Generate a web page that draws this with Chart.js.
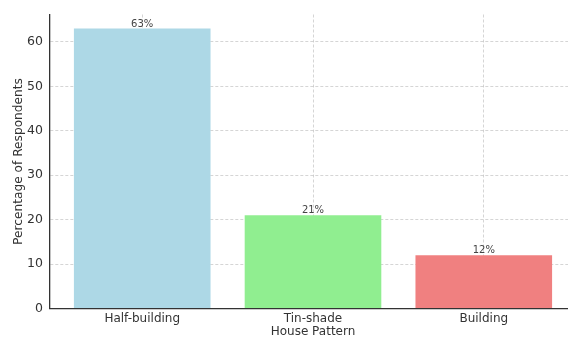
<!DOCTYPE html>
<html>
<head>
<meta charset="utf-8">
<script src="https://cdn.jsdelivr.net/npm/chart.js@4.4.1/dist/chart.umd.min.js"></script>
<style>
  html, body { margin: 0; padding: 0; background: #ffffff; }
  #wrap { width: 568px; height: 339px; overflow: hidden; position: relative; }
  #houseChart { display: block; }
</style>
</head>
<body>
<div id="wrap">
  <canvas id="houseChart" width="578" height="339"></canvas>
</div>
<script>
// 주택 형태별 응답자 비율

const categories = ["Half-building", "Tin-shade", "Building"];
const percentValues = [63, 21, 12];
const barColors = ["#ADD8E6", "#90EE90", "#F08080"];
const yTickValues = [0, 10, 20, 30, 40, 50, 60];

const FONT_FAMILY = "'DejaVu Sans', sans-serif";
const TEXT_COLOR = "#333333";
const GRID_COLOR = "rgba(150,150,150,0.5)";

// 막대 위에 % 라벨
const valueLabelPlugin = {
  id: "valueLabels",
  afterDatasetsDraw(chart) {
    const ctx = chart.ctx;
    const meta = chart.getDatasetMeta(0);
    ctx.save();
    ctx.font = "10px " + FONT_FAMILY;
    ctx.fillStyle = "#444444";
    ctx.textAlign = "center";
    ctx.textBaseline = "bottom";
    meta.data.forEach((bar, i) => {
      ctx.fillText(percentValues[i] + "%", bar.x, bar.y + 0.5);
    });
    ctx.restore();
  }
};

function gridStyle() {
  return {
    color: GRID_COLOR,
    lineWidth: 0.8,
    drawTicks: false,
    offset: false
  };
}

function createHouseChart() {
  const ctx = document.getElementById("houseChart");
  if (!ctx) return;

  new Chart(ctx, {
    type: "bar",
    data: {
      datasets: [{
        data: percentValues.map((v, i) => ({ x: i, y: v })),
        backgroundColor: barColors,
        borderWidth: 0,
        barPercentage: 0.8,
        categoryPercentage: 1.0
      }]
    },
    options: {
      responsive: false,
      animation: false,
      layout: {
        padding: { top: 14, right: 2, bottom: 0, left: 0 }
      },
      plugins: {
        legend: { display: false },
        tooltip: { enabled: false }
      },
      scales: {
        x: {
          type: "linear",
          offset: false,
          z: 1,
          min: -0.54,
          max: 2.54,
          grid: gridStyle(),
          border: { color: TEXT_COLOR, width: 1.3, dash: [3, 2] },
          afterBuildTicks(scale) {
            scale.ticks = categories.map((c, i) => ({ value: i }));
          },
          ticks: {
            color: TEXT_COLOR,
            padding: 3,
            font: { family: FONT_FAMILY, size: 12 },
            callback: (value) => categories[value]
          },
          title: {
            display: true,
            text: "House Pattern",
            color: TEXT_COLOR,
            padding: { top: 0, bottom: 0 },
            font: { family: FONT_FAMILY, size: 12 }
          },
          afterFit(scale) {
            scale.height = 30.5;
          }
        },
        y: {
          z: 1,
          min: 0,
          max: 66.15,
          grid: gridStyle(),
          border: { color: TEXT_COLOR, width: 1.3, dash: [3, 2] },
          afterBuildTicks(scale) {
            scale.ticks = yTickValues.map((v) => ({ value: v }));
          },
          ticks: {
            color: TEXT_COLOR,
            padding: 7,
            font: { family: FONT_FAMILY, size: 12.5 }
          },
          title: {
            display: true,
            text: "Percentage of Respondents",
            color: TEXT_COLOR,
            padding: { top: 12, bottom: 0 },
            font: { family: FONT_FAMILY, size: 12.2 }
          },
          afterFit(scale) {
            scale.width = 50;
          }
        }
      }
    },
    plugins: [valueLabelPlugin]
  });
}

window.addEventListener("DOMContentLoaded", () => {
  createHouseChart();
});
</script>
</body>
</html>
